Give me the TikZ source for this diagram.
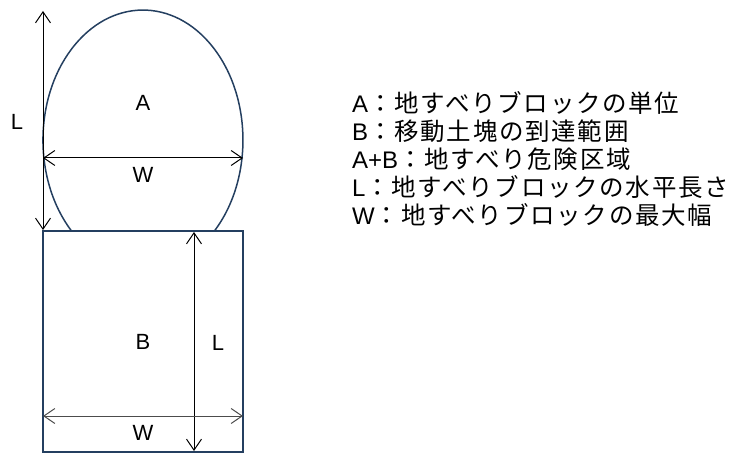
\documentclass[tikz,border=0pt]{standalone}
\usepackage{fontspec}
\setmainfont{Liberation Sans}
\newfontfamily\jpfont[LetterSpace=7]{Noto Sans CJK JP}
\usetikzlibrary{arrows.meta, positioning}
\definecolor{navy}{HTML}{243F60}
\tikzset{
x=1pt, y=1pt, % one unit is one pixel of the layout
}
\tikzstyle{outline} = [draw=navy, line width=1.5pt]
\tikzstyle{dim} = [draw=black, line width=1pt,
    {Straight Barb[length=11pt,width=15pt]}-{Straight Barb[length=11pt,width=15pt]}]
\tikzstyle{dimgray} = [dim, draw=black!70]
\tikzstyle{dimtext} = [inner sep=0pt, font=\fontsize{22}{22}\selectfont]
\tikzstyle{legend} = [inner sep=0pt, text height=20pt, text depth=6pt,
    font=\fontsize{24}{24}\selectfont, node distance=1.5pt]
\newcommand{\jp}[1]{{\fontsize{24.5}{24.5}\selectfont\jpfont #1}}

\begin{document}
\begin{tikzpicture}
\useasboundingbox (0,0) rectangle (739,453);
% block A (slide head) and area B (run-out)
\coordinate (ul) at (43,442);
\coordinate (ll) at (43,223);
\coordinate (wl) at (43,295);
\coordinate (wr) at (243,295);
\coordinate (rt) at (194,221);
\coordinate (rb) at (194,2);
\coordinate (bl) at (43,37);
\coordinate (br) at (243,37);
\node [outline, rectangle, minimum width=200, minimum height=221, inner sep=0pt] (areaB) at (143,111.5) {};
\path [outline] (214.4,222) arc[start angle=-44.4, end angle=224.4, x radius=100, y radius=130];

% labels
\node [dimtext] (labA) at (143,350) {A};
\node [dimtext] (labW1) at (143,278) {W};
\node [dimtext] (labL1) at (17,331) {L};
\node [dimtext] (labB) at (143,111) {B};
\node [dimtext] (labL2) at (218,110) {L};
\node [dimtext] (labW2) at (143,20) {W};

% dimension arrows
\path [dim] (ul) -- (ll);
\path [dim] (wl) -- (wr);
\path [dim] (rt) -- (rb);
\path [dimgray] (bl) -- (br);

% legend
\node [legend, anchor=west] (legA) at (352,347) {A\jp{：地すべりブロックの単位}};
\node [legend, below=of legA.south west, anchor=north west] (legB) {B\jp{：移動土塊の到達範囲}};
\node [legend, below=of legB.south west, anchor=north west] (legAB) {A+B\jp{：地すべり危険区域}};
\node [legend, below=of legAB.south west, anchor=north west] (legL) {L\jp{：地すべりブロックの水平長さ}};
\node [legend, below=of legL.south west, anchor=north west] (legW) {W\jp{：地すべりブロックの最大幅}};
\end{tikzpicture}
\end{document}
